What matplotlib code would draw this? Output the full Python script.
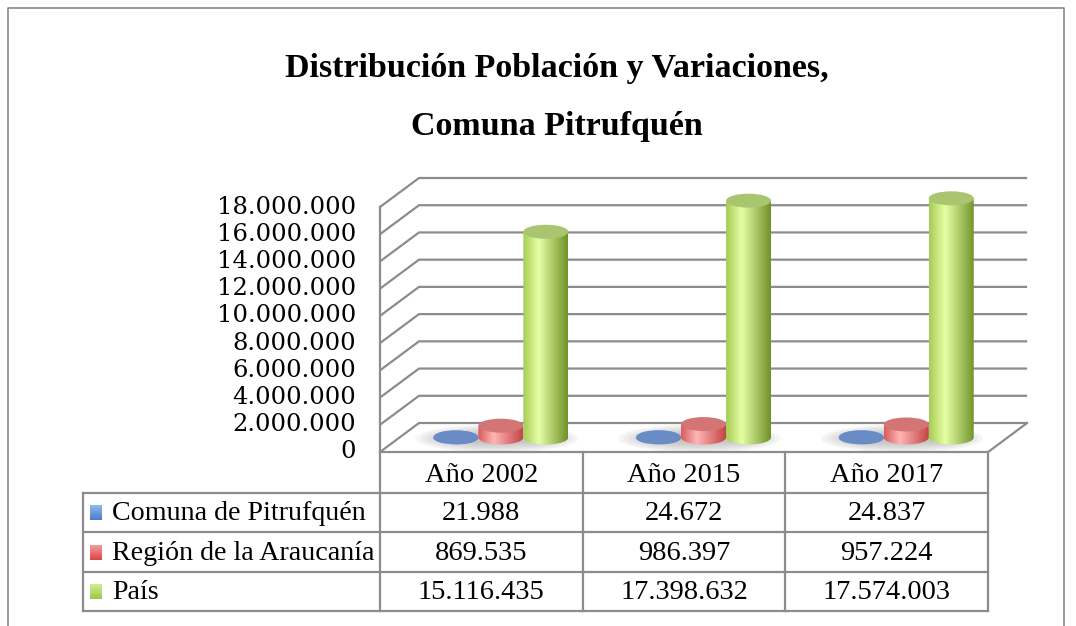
import numpy as np
import matplotlib.pyplot as plt
from matplotlib.patches import Ellipse, PathPatch
from matplotlib.path import Path
from matplotlib.colors import LinearSegmentedColormap

# data
years = ["Año 2002", "Año 2015", "Año 2017"]
series = ["Comuna de Pitrufquén", "Región de la Araucanía", "País"]
comuna = [21988, 24672, 24837]
region = [869535, 986397, 957224]
pais = [15116435, 17398632, 17574003]
ticks = list(range(0, 18000001, 2000000))

# look of each series: (left edge, highlight, right edge), top cap, legend key
body_cols = [("#4f78b8", "#9dbce8", "#3f659f"),
             ("#d85a5a", "#ffb6b6", "#c24545"),
             ("#a6cc55", "#e6ffa6", "#6f9128")]
top_cols = ["#6a8cc6", "#d37575", "#a9c56f"]
key_cols = [("#8fb6ef", "#4f7fc8"), ("#f59a9a", "#d84848"),
            ("#cfef95", "#9cc74d")]

GRID = "#8c8c8c"
SERIF = "DejaVu Serif"
TABFONT = "Liberation Serif"


def fmt(v):
    return f"{v:,}".replace(",", ".")


# layout in pixels
W, H = 1076, 626
FX0, CAT, FY0 = 380, 202.7, 452     # front-plane origin and category width
VPX = 245 / 18e6                     # pixels per unit value
DX_PX, DY_PX = 39, 29                # 3d depth offset
L, R, T, B = 330, 1045, 160, 465     # chart axes box

fig = plt.figure(figsize=(W / 100, H / 100), dpi=100)

ax = fig.add_axes([L / W, 1 - B / H, (R - L) / W, (B - T) / H])
ax.axis("off")
xlim = ((L - FX0) / CAT, (R - FX0) / CAT)
ylim = ((FY0 - B) / VPX, (FY0 - T) / VPX)

dX = DX_PX / CAT
dV = DY_PX / VPX
n = len(years)

# back wall gridlines + side wall diagonals
for v in ticks:
    ax.plot([0, dX, n + dX], [v, v + dV, v + dV], color=GRID, lw=1.6,
            solid_capstyle="butt", zorder=1)
ax.plot([0, 0], [0, ticks[-1]], color=GRID, lw=1.6, zorder=1)
ax.plot([0, n, n + dX], [0, 0, dV], color=GRID, lw=1.6, zorder=1)

for v in ticks:
    ax.text((356 - FX0) / CAT, v, fmt(v), ha="right", va="center",
            fontsize=17.5, family=SERIF, color="black")

# cylinders
w = 45 / CAT
eh = 14 / VPX
offs = [-0.222, 0.0, 0.222]
base = 0.5 * dV
grad = np.linspace(0, 1, 256).reshape(1, -1)

for c in range(n):
    # soft floor shadow
    cx0 = c + 0.5 + 0.5 * dX
    for k in range(7):
        ax.add_patch(Ellipse((cx0 - 0.02, base - 1 / VPX),
                             0.80 - k * 0.05, (28 - k * 3) / VPX,
                             facecolor="#7a7a7a", edgecolor="none",
                             alpha=0.07, zorder=2))
    for s, vals in enumerate([comuna, region, pais]):
        cx = c + 0.5 + offs[s] + 0.5 * dX
        top = base + vals[c]
        x_l, x_r = cx - w / 2, cx + w / 2
        t = np.linspace(np.pi, 2 * np.pi, 40)
        verts = [(x_l, top), (x_l, base)]
        verts += list(zip(cx + w / 2 * np.cos(t), base + eh / 2 * np.sin(t)))
        verts += [(x_r, top), (x_l, top)]
        path = Path(verts, closed=True)
        clip = PathPatch(path, transform=ax.transData)
        cm = LinearSegmentedColormap.from_list(
            "c", [(0, body_cols[s][0]), (0.35, body_cols[s][1]),
                  (1, body_cols[s][2])])
        im = ax.imshow(grad, extent=[x_l, x_r, base - eh / 2, top],
                       aspect="auto", cmap=cm, zorder=3 + s,
                       interpolation="bilinear")
        im.set_clip_path(clip)
        ax.add_patch(Ellipse((cx, top), w, eh, facecolor=top_cols[s],
                             edgecolor="none", zorder=3 + s))

ax.set_xlim(*xlim)
ax.set_ylim(*ylim)

# data table + frame, drawn in pixel space
tab = fig.add_axes([0, 0, 1, 1])
tab.set_xlim(0, W)
tab.set_ylim(H, 0)
tab.axis("off")
tab.patch.set_alpha(0)

tab.plot([8, 8, 1064, 1064], [700, 8, 8, 700], color="#8a8a8a", lw=1.2)

cols = [FX0 + k * CAT for k in range(n + 1)]
rows = [FY0, 493, 532, 572, 611]
LX = 83
for x in cols:
    tab.plot([x, x], [rows[0], rows[-1]], color=GRID, lw=1.6)
tab.plot([LX, LX], [rows[1], rows[-1]], color=GRID, lw=1.6)
for y in rows[1:]:
    tab.plot([LX, cols[-1]], [y, y], color=GRID, lw=1.6)

for k, yr in enumerate(years):
    tab.text((cols[k] + cols[k + 1]) / 2, (rows[0] + rows[1]) / 2 + 3, yr,
             ha="center", va="center", fontsize=20.5, family=TABFONT)

for s, (name, vals) in enumerate(zip(series, [comuna, region, pais])):
    yc = (rows[s + 1] + rows[s + 2]) / 2
    kcm = LinearSegmentedColormap.from_list("k", list(key_cols[s]))
    tab.imshow(np.linspace(0, 1, 20).reshape(-1, 1), cmap=kcm,
               extent=[90, 102, yc + 8, yc - 7], aspect="auto",
               interpolation="bilinear", zorder=3)
    tab.text(112, yc + 1, name, ha="left", va="center", fontsize=20.2,
             family=TABFONT)
    for k in range(n):
        tab.text((cols[k] + cols[k + 1]) / 2, yc + 1, fmt(vals[k]),
                 ha="center", va="center", fontsize=20.5, family=TABFONT)

tab.set_xlim(0, W)
tab.set_ylim(H, 0)

fig.text(557 / W, 1 - 68 / H, "Distribución Población y Variaciones,",
         ha="center", va="center", fontsize=24.5, weight="bold",
         family=TABFONT)
fig.text(557 / W, 1 - 126 / H, "Comuna Pitrufquén",
         ha="center", va="center", fontsize=24.5, weight="bold",
         family=TABFONT)

fig.savefig("out.png", dpi=100)
